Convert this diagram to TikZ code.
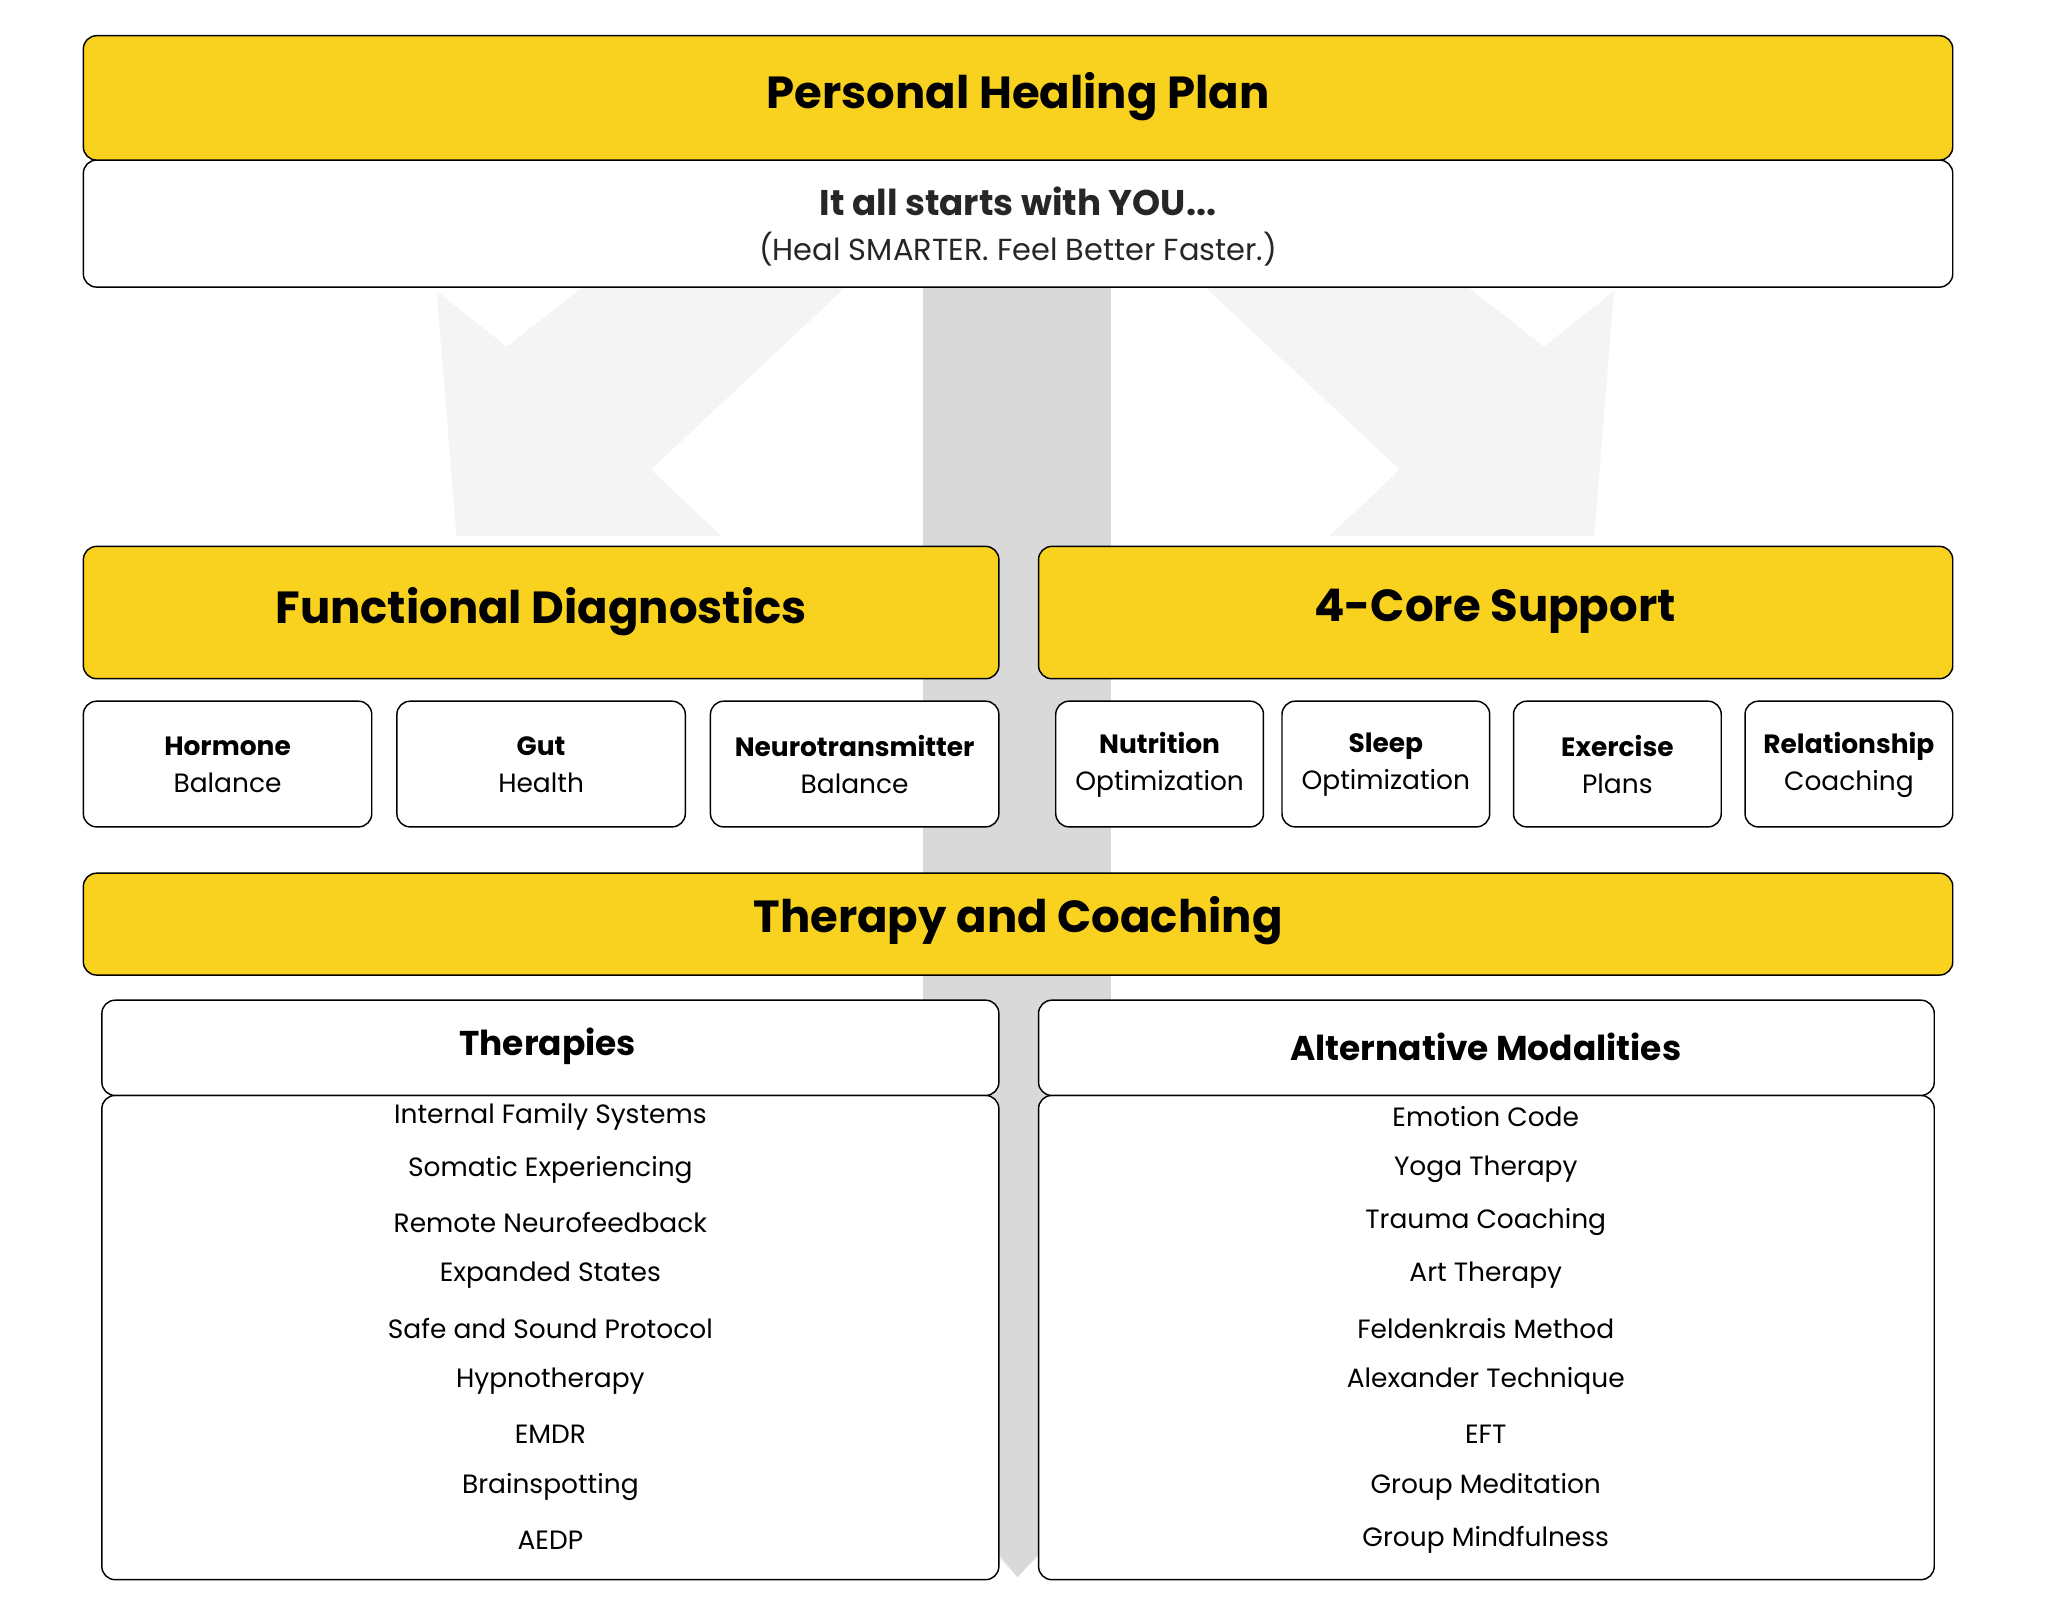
\documentclass[tikz,border=0pt]{standalone}
\usepackage{fontspec}
\setmainfont{Poppins}
\definecolor{hyellow}{HTML}{F9D21F}
\definecolor{arrowlight}{HTML}{F4F4F4}
\definecolor{arrowdark}{HTML}{D9D9D9}
\begin{document}
\begin{tikzpicture}[
    x = 1pt, y = -1pt,
    line join=round,
    band/.style = {draw=black, line width=1.1pt, rounded corners=10pt, fill=hyellow},
    card/.style = {draw=black, line width=1.1pt, rounded corners=10pt, fill=white},
    head/.style = {font=\fontsize{34}{40}\selectfont\bfseries},
    small/.style = {align=center, font=\fontsize{20}{28}\selectfont},
    item/.style = {font=\fontsize{20}{24}\selectfont}
]

\useasboundingbox (0,0) rectangle (1548,1210);

% background arrows
\fill[arrowlight] (640,110) -- (700,160) -- (492,355) -- (545,405) -- (345,405) -- (330,220) -- (383,262) -- (590,100) -- cycle;
\fill[arrowlight] (910,110) -- (850,160) -- (1058,355) -- (1005,405) -- (1205,405) -- (1220,220) -- (1167,262) -- (960,100) -- cycle;
\fill[arrowlight] (628,1050) -- (912,1050) -- (769,1192) -- cycle;
\fill[arrowdark] (698,120) rectangle (840,1050);
\fill[arrowdark] (755,1050) -- (785,1050) -- (785,1175) -- (769,1192) -- (755,1175) -- cycle;

% header
\draw[card] (63,121) rectangle (1476,217);
\draw[band] (63,27) rectangle (1476,121);
\node[head] (plan) at (769.5,73) {Personal Healing Plan};
\node[font=\fontsize{27}{32}\selectfont\bfseries, text=black!85] (you) at (769.5,152) {It all starts with YOU...};
\node[font=\fontsize{23}{28}\selectfont, text=black!85] (motto) at (769.5,188) {(Heal SMARTER. Feel Better Faster.)};

% two pillars
\draw[band] (63,413) rectangle (755,513);
\node[head] (diag) at (409,462) {Functional Diagnostics};
\draw[band] (785,413) rectangle (1476,513);
\node[head] (core) at (1130,462) {4-Core Support};

\foreach \xa/\xb/\ta/\tb [count=\i] in {63/281/Hormone/Balance, 300/518/Gut/Health, 537/755/Neurotransmitter/Balance,
    798/955/Nutrition/Optimization, 969/1126/Sleep/Optimization, 1144/1301/Exercise/Plans, 1319/1476/Relationship/Coaching}{
  \draw[card] (\xa,530) rectangle (\xb,625);
  \node[small] (sub\i) at ({(\xa+\xb)/2},578) {\textbf{\ta}\\\tb};
}

% therapy and coaching
\draw[band] (63,660) rectangle (1476,737);
\node[head] (therapy) at (769.5,696) {Therapy and Coaching};

\draw[card] (77,828) rectangle (755,1194);
\draw[card] (77,756) rectangle (755,828);
\node[font=\fontsize{26}{30}\selectfont\bfseries] (ther) at (414,791) {Therapies};
\draw[card] (785,828) rectangle (1462,1194);
\draw[card] (785,756) rectangle (1462,828);
\node[font=\fontsize{26}{30}\selectfont\bfseries] (alt) at (1123,791) {Alternative Modalities};

\foreach \t [count=\i from 0] in {Internal Family Systems, Somatic Experiencing, Remote Neurofeedback, Expanded States,
    Safe and Sound Protocol, Hypnotherapy, EMDR, Brainspotting, AEDP}{
  \node[item] (th\i) at (416,{844+40*\i}) {\t};
}
\foreach \t [count=\i from 0] in {Emotion Code, Yoga Therapy, Trauma Coaching, Art Therapy, Feldenkrais Method,
    Alexander Technique, EFT, Group Meditation, Group Mindfulness}{
  \node[item] (am\i) at (1123,{844+40*\i}) {\t};
}

\end{tikzpicture}
\end{document}
